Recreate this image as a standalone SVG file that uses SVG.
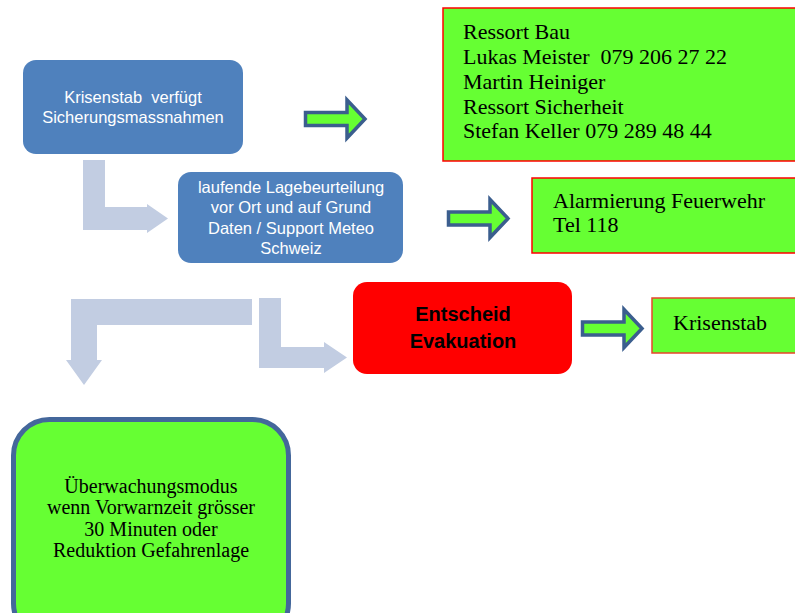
<svg xmlns="http://www.w3.org/2000/svg" width="795" height="613" viewBox="0 0 795 613">
<style>
.blue{fill:#4f81bd}
.wt{font-family:"Liberation Sans",Arial,sans-serif;font-size:16.5px;fill:#ffffff;text-anchor:middle}
.gbox{fill:#66ff33;stroke:#ff0000;stroke-width:1.5}
.st{font-family:"Liberation Serif","Times New Roman",serif;font-size:22px;fill:#000000}
.bent{fill:#c2cde2}
.barr{fill:#66ff33;stroke:#3b5e8e;stroke-width:3.5;stroke-linejoin:miter}
</style>
<defs>
<path id="ga" class="barr" d="M1.5,-6.5 H43 V-19 L61,0 L43,19 V6.5 H1.5 Z"/>
</defs>
<g id="connectors">
<path class="bent" d="M83,160 H105 V207 H147 V204 L168,218.5 L147,233 V230 H83 Z"/>
<path class="bent" d="M252,299 V325 H97 V360 H102 L84,385 L66,360 H71 V299 Z"/>
<path class="bent" d="M259,298 H281 V347 H324 V342 L347,357.5 L324,373 V368 H259 Z"/>
<use href="#ga" x="304" y="119"/>
<use href="#ga" x="447" y="218.5"/>
<use href="#ga" x="581" y="328.5"/>
</g>
<g id="n1">
<rect class="blue" x="23" y="60" width="220" height="94" rx="13"/>
<text class="wt" x="133" y="103" xml:space="preserve">Krisenstab  verfügt</text>
<text class="wt" x="133" y="123">Sicherungsmassnahmen</text>
</g>
<g id="n2">
<rect class="blue" x="178" y="172" width="225" height="91" rx="13"/>
<text class="wt" x="291" y="193">laufende Lagebeurteilung</text>
<text class="wt" x="291" y="213">vor Ort und auf Grund</text>
<text class="wt" x="291" y="234">Daten / Support Meteo</text>
<text class="wt" x="291" y="254">Schweiz</text>
</g>
<g id="n3">
<rect class="gbox" x="443" y="8" width="360" height="153"/>
<text class="st" x="463" y="39">Ressort Bau</text>
<text class="st" x="463" y="64" xml:space="preserve">Lukas Meister  079 206 27 22</text>
<text class="st" x="463" y="89">Martin Heiniger</text>
<text class="st" x="463" y="114">Ressort Sicherheit</text>
<text class="st" x="463" y="138">Stefan Keller 079 289 48 44</text>
</g>
<g id="n4">
<rect class="gbox" x="532" y="178" width="270" height="75"/>
<text class="st" x="553" y="208">Alarmierung Feuerwehr</text>
<text class="st" x="553" y="232">Tel 118</text>
</g>
<g id="n5">
<rect x="353" y="282" width="219" height="92" rx="14" fill="#ff0000"/>
<text x="463" y="321" font-family="Liberation Sans,Arial,sans-serif" font-size="20" font-weight="bold" text-anchor="middle" fill="#000">Entscheid</text>
<text x="463" y="348" font-family="Liberation Sans,Arial,sans-serif" font-size="20" font-weight="bold" text-anchor="middle" fill="#000">Evakuation</text>
</g>
<g id="n6">
<rect x="652" y="298" width="150" height="55" fill="#66ff33" stroke="#e8452c" stroke-width="1.5"/>
<text class="st" x="673" y="330">Krisenstab</text>
</g>
<g id="n7">
<rect x="13.5" y="419.5" width="275" height="220" rx="36" fill="#66ff33" stroke="#44679b" stroke-width="5"/>
<g font-family="Liberation Serif,Times New Roman,serif" font-size="20" text-anchor="middle" fill="#000">
<text x="151" y="493">Überwachungsmodus</text>
<text x="151" y="514">wenn Vorwarnzeit grösser</text>
<text x="151" y="536">30 Minuten oder</text>
<text x="151" y="557">Reduktion Gefahrenlage</text>
</g>
</g>
</svg>
